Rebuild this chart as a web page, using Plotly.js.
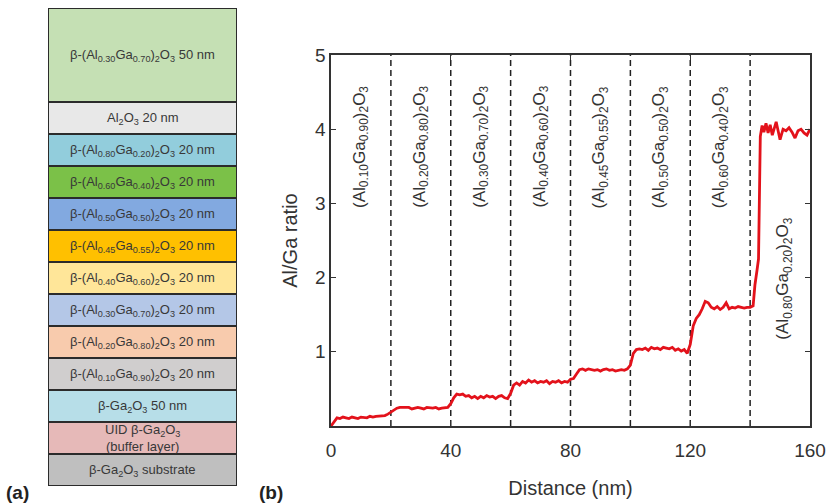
<!DOCTYPE html>
<html>
<head>
<meta charset="utf-8">
<script src="https://cdn.plot.ly/plotly-3.0.1.min.js"></script>
<style>html,body{margin:0;padding:0;background:#fff;}#chart{width:830px;height:504px;}</style>
</head>
<body>
<div id="chart"></div>
<script>
// ---------- Panel (b): Al/Ga ratio profile ----------
const distanceNm = [0,1,2,3,4,5,6,7,8,9,10,11,12,13,14,15,16,17,18,19,
  20,21,22,23,24,25,26,27,28,29,30,31,32,33,34,35,36,37,38,39,
  40,41,42,43,44,45,46,47,48,49,50,51,52,53,54,55,56,57,58,59,
  60,61,62,63,64,65,66,67,68,69,70,71,72,73,74,75,76,77,78,79,
  80,81,82,83,84,85,86,87,88,89,90,91,92,93,94,95,96,97,98,99,
  100,101,102,103,104,105,106,107,108,109,110,111,112,113,114,115,116,117,118,119,
  120,121,122,123,124,125,126,127,128,129,130,131,132,133,134,135,136,137,138,139,
  140,141,141.6,142.3,142.8,143.4,144,144.6,145.3,146,146.7,147.4,148,148.7,149.4,150,
  151,152,153,154,155,156,157,158,159,160];
const alGaRatio = [0.00,0.06,0.11,0.10,0.12,0.11,0.10,0.12,0.11,0.10,0.12,0.12,0.11,0.13,0.12,0.13,0.13,0.14,0.14,0.16,
  0.19,0.21,0.24,0.25,0.25,0.24,0.25,0.23,0.24,0.25,0.24,0.23,0.25,0.24,0.24,0.25,0.23,0.24,0.25,0.25,
  0.30,0.38,0.43,0.42,0.43,0.40,0.41,0.38,0.40,0.37,0.40,0.38,0.41,0.39,0.40,0.37,0.40,0.41,0.38,0.37,
  0.44,0.55,0.58,0.55,0.60,0.58,0.62,0.59,0.61,0.58,0.60,0.59,0.61,0.57,0.60,0.59,0.61,0.58,0.60,0.59,
  0.63,0.64,0.70,0.76,0.77,0.75,0.77,0.76,0.75,0.76,0.74,0.76,0.77,0.75,0.76,0.74,0.75,0.76,0.75,0.77,
  0.82,0.98,1.03,1.04,1.03,1.05,1.02,1.06,1.04,1.05,1.03,1.06,1.05,1.04,1.06,1.02,1.04,1.01,1.03,0.98,
  1.10,1.35,1.45,1.50,1.58,1.68,1.66,1.60,1.58,1.61,1.57,1.60,1.66,1.58,1.60,1.59,1.61,1.60,1.59,1.60,
  1.60,1.62,1.90,2.10,2.25,3.90,4.05,3.96,4.08,3.95,4.06,3.92,4.02,4.10,3.97,3.86,
  4.00,3.98,4.02,3.96,3.88,3.98,4.00,3.95,3.92,4.00];
const layerBoundariesNm = [20,40,60,80,100,120,140];
const alFraction = ["0.10","0.20","0.30","0.40","0.45","0.50","0.60","0.80"];
const gaFraction = ["0.90","0.80","0.70","0.60","0.55","0.50","0.40","0.20"];
const xTicks = [0,40,80,120,160];
const yTicks = [1,2,3,4,5];

// ---------- Panel (a): layer stack, listed bottom to top ----------
const layerNames = [
  "β-Ga<sub>2</sub>O<sub>3</sub> substrate",
  "UID β-Ga<sub>2</sub>O<sub>3</sub><br>(buffer layer)",
  "β-Ga<sub>2</sub>O<sub>3</sub> 50 nm",
  "β-(Al<sub>0.10</sub>Ga<sub>0.90</sub>)<sub>2</sub>O<sub>3</sub> 20 nm",
  "β-(Al<sub>0.20</sub>Ga<sub>0.80</sub>)<sub>2</sub>O<sub>3</sub> 20 nm",
  "β-(Al<sub>0.30</sub>Ga<sub>0.70</sub>)<sub>2</sub>O<sub>3</sub> 20 nm",
  "β-(Al<sub>0.40</sub>Ga<sub>0.60</sub>)<sub>2</sub>O<sub>3</sub> 20 nm",
  "β-(Al<sub>0.45</sub>Ga<sub>0.55</sub>)<sub>2</sub>O<sub>3</sub> 20 nm",
  "β-(Al<sub>0.50</sub>Ga<sub>0.50</sub>)<sub>2</sub>O<sub>3</sub> 20 nm",
  "β-(Al<sub>0.60</sub>Ga<sub>0.40</sub>)<sub>2</sub>O<sub>3</sub> 20 nm",
  "β-(Al<sub>0.80</sub>Ga<sub>0.20</sub>)<sub>2</sub>O<sub>3</sub> 20 nm",
  "Al<sub>2</sub>O<sub>3</sub> 20 nm",
  "β-(Al<sub>0.30</sub>Ga<sub>0.70</sub>)<sub>2</sub>O<sub>3</sub> 50 nm"
];
const layerDrawnHeight = [1,1,1,1,1,1,1,1,1,1,1,1,2.94];
const layerColors = ["#bfbfbf","#e6b9b8","#b7dee8","#d0cece","#f8cbad","#b4c7e7",
  "#ffe699","#ffc000","#82a9e0","#7bc148","#92cddc","#e8e8e8","#c5e0b4"];

// ---------- build ----------
const layerBase = [];
let acc = 0;
for (const h of layerDrawnHeight) { layerBase.push(acc); acc += h; }
const stackTotal = acc;

const FONT = "Liberation Sans, Arial, sans-serif";
const INK = "#333333";

const traces = [
  {
    type: "bar", xaxis: "x2", yaxis: "y2",
    x: layerNames.map(() => 0), y: layerDrawnHeight, base: layerBase,
    width: 1, marker: {color: layerColors, line: {color: "#2b2b2b", width: 2}},
    hoverinfo: "skip", showlegend: false
  },
  {
    type: "scatter", mode: "lines", x: distanceNm, y: alGaRatio,
    line: {color: "#e3121b", width: 2.8}, showlegend: false, hoverinfo: "skip"
  }
];

const shapes = layerBoundariesNm.map(b => ({
  type: "line", xref: "x", yref: "y", x0: b, x1: b, y0: 0, y1: 5,
  line: {color: "#222", width: 1.5, dash: "6px,4px"}, layer: "below"
}));

const annotations = [];
layerNames.forEach((t, i) => {
  annotations.push({
    xref: "x2", yref: "y2", x: 0, y: layerBase[i] + layerDrawnHeight[i] / 2,
    text: t, showarrow: false, font: {family: FONT, size: 13, color: "#383838"}
  });
});
const segEdges = [0].concat(layerBoundariesNm, [160]);
alFraction.forEach((a, i) => {
  const last = i === alFraction.length - 1;
  annotations.push({
    xref: "x", yref: "y",
    x: (segEdges[i] + segEdges[i + 1]) / 2 + (last ? 1.5 : 0),
    y: last ? 1.98 : 3.76,
    textangle: -90, showarrow: false,
    text: "(Al<sub>" + a + "</sub>Ga<sub>" + gaFraction[i] + "</sub>)<sub>2</sub>O<sub>3</sub>",
    font: {family: FONT, size: 17, color: INK}
  });
});
annotations.push({xref: "paper", yref: "paper", x: 4/830, y: 1 - 492/504, xanchor: "left", yanchor: "middle",
  text: "<b>(a)</b>", showarrow: false, font: {family: FONT, size: 19, color: "#222"}});
annotations.push({xref: "paper", yref: "paper", x: 257/830, y: 1 - 492/504, xanchor: "left", yanchor: "middle",
  text: "<b>(b)</b>", showarrow: false, font: {family: FONT, size: 19, color: "#222"}});

const layout = {
  width: 830, height: 504,
  margin: {l: 0, r: 0, t: 0, b: 0},
  paper_bgcolor: "#fff", plot_bgcolor: "#fff",
  showlegend: false,
  barmode: "overlay",
  font: {family: FONT, color: INK},
  xaxis: {
    domain: [331/830, 810/830], range: [0, 160], tickvals: xTicks,
    ticks: "inside", ticklen: 5, tickwidth: 1.3, tickcolor: INK,
    showline: true, linecolor: INK, linewidth: 1.6, mirror: "ticks",
    showgrid: false, zeroline: false, automargin: false,
    ticklabelstandoff: 7,
    tickfont: {family: FONT, size: 19, color: INK},
    title: {text: "Distance (nm)", font: {family: FONT, size: 20, color: INK}, standoff: 20},
    anchor: "y", fixedrange: true
  },
  yaxis: {
    domain: [1 - 426/504, 1 - 55/504], range: [0, 5], tickvals: yTicks,
    ticks: "inside", ticklen: 5, tickwidth: 1.3, tickcolor: INK,
    showline: true, linecolor: INK, linewidth: 1.6, mirror: "ticks",
    showgrid: false, zeroline: false, automargin: false,
    tickfont: {family: FONT, size: 19, color: INK},
    title: {text: "Al/Ga ratio", font: {family: FONT, size: 20, color: INK}, standoff: 12},
    anchor: "x", fixedrange: true
  },
  xaxis2: {
    domain: [48/830, 237/830], range: [-0.5, 0.5], visible: false, fixedrange: true, anchor: "y2"
  },
  yaxis2: {
    domain: [1 - 486/504, 1 - 8/504], range: [0, stackTotal], visible: false, fixedrange: true, anchor: "x2"
  },
  shapes: shapes,
  annotations: annotations
};

Plotly.newPlot("chart", traces, layout, {displayModeBar: false, staticPlot: true});
</script>
</body>
</html>
